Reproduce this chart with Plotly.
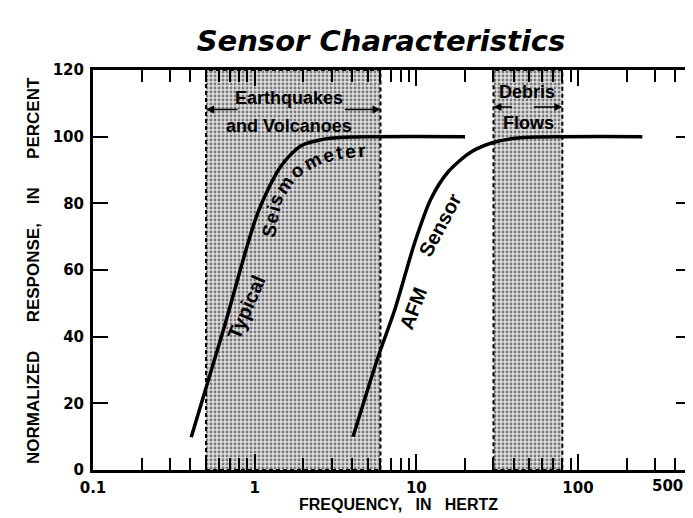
import numpy as np
import plotly.graph_objects as go

# ---------------- data ----------------
seis_freq = [0.405, 0.652, 1.048, 1.46, 1.94, 2.58, 3.5, 20]
seis_resp = [9.8, 43.3, 77.3, 91.3, 97.3, 99.1, 99.8, 100]

afm_freq = [4.06, 5.8, 7.38, 9.8, 12.3, 15.7, 21.8, 30.6, 42.5, 250]
afm_resp = [10, 33.9, 48.3, 68.4, 81.3, 89.4, 95.4, 98.4, 99.6, 100]

band_names = ["Earthquakes and Volcanoes", "Debris Flows"]
band_lo = [0.5, 30]
band_hi = [6, 80]

x_tick_vals = [0.1, 1, 10, 100, 500]
x_tick_text = ["0.1", "1", "10", "100", ""]
x_minor_vals = [0.2, 0.3, 0.4, 0.5, 0.6, 0.7, 0.8, 0.9,
                2, 3, 4, 5, 6, 7, 8, 9,
                20, 30, 40, 50, 60, 70, 80, 90,
                200, 300, 400]
y_tick_vals = [0, 20, 40, 60, 80, 100, 120]

# ---------------- layout constants ----------------
W, H = 693, 518
L, R, T, B = 85, 10, 62, 56
PW, PH = W - L - R, H - T - B


def px(xp):
    return (xp - L) / PW


def py(yp):
    return (H - B - yp) / PH


LIB = "Liberation Sans, Arial, Helvetica, sans-serif"
DJV = "DejaVu Sans, Verdana, sans-serif"
NB = "\u00a0"

fig = go.Figure()

# shaded bands
for name, lo, hi in zip(band_names, band_lo, band_hi):
    fig.add_trace(go.Scatter(
        x=[lo, hi, hi, lo, lo], y=[0, 0, 120, 120, 0],
        mode="lines", fill="toself",
        fillcolor="#d6d6d6",
        fillpattern=dict(shape=".", fgcolor="#777777", bgcolor="#e0e0e0",
                         size=4, solidity=0.4, fillmode="replace"),
        line=dict(color="black", width=2, dash="4px,3px"),
        name=name, hoverinfo="skip"))

# response curves
fig.add_trace(go.Scatter(x=seis_freq, y=seis_resp, mode="lines",
                         line=dict(color="black", width=3.5, shape="spline", smoothing=0.8),
                         name="Typical Seismometer"))
fig.add_trace(go.Scatter(x=afm_freq, y=afm_resp, mode="lines",
                         line=dict(color="black", width=3.5, shape="spline", smoothing=0.8),
                         name="AFM Sensor"))

tickfont = dict(family=DJV, size=15, color="black", weight="bold")

fig.update_layout(
    width=W, height=H,
    margin=dict(l=L, r=R, t=T, b=B, autoexpand=False),
    paper_bgcolor="white", plot_bgcolor="white",
    showlegend=False,
    title=dict(text="Sensor Characteristics", x=373 / W, xanchor="center",
               xref="container", yref="container", y=1 - 33 / H, yanchor="middle",
               font=dict(family=DJV, size=29, color="black", weight="bold", style="italic")),
    xaxis=dict(type="log", range=[-1, np.log10(500)],
               tickmode="array", tickvals=x_tick_vals, ticktext=x_tick_text,
               ticks="inside", ticklen=16, tickwidth=2, tickcolor="black",
               ticklabelstandoff=2,
               minor=dict(tickmode="array", tickvals=x_minor_vals, ticks="inside",
                          ticklen=12, tickwidth=2, tickcolor="black", showgrid=False),
               showline=True, linewidth=3, linecolor="black", mirror="ticks",
               showgrid=False, zeroline=False, tickfont=tickfont, automargin=False),
    yaxis=dict(range=[0, 120], tickmode="array", tickvals=y_tick_vals,
               ticks="inside", ticklen=15, tickwidth=2, tickcolor="black",
               ticklabelstandoff=3,
               showline=True, linewidth=3, linecolor="black", mirror="ticks",
               showgrid=False, zeroline=False, tickfont=tickfont, automargin=False),
)

ann = []


def text(t, xp, yp, size=18, angle=0, family=LIB):
    ann.append(dict(text=t, xref="paper", yref="paper", x=px(xp), y=py(yp),
                    xanchor="center", yanchor="middle", showarrow=False,
                    textangle=angle,
                    font=dict(family=family, size=size, color="black", weight="bold")))


# tick label 500 (sits left of the axis end)
text("500", 659, 478, size=15, family=DJV)

# axis titles
text("NORMALIZED" + NB * 6 + "RESPONSE," + NB * 4 + "IN" + NB * 6 + "PERCENT",
     25, 263, size=17, angle=-90)
text("FREQUENCY," + NB * 3 + "IN" + NB * 3 + "HERTZ", 390, 497, size=16)

# band labels
text("Earthquakes", 281, 89.5, size=18)
text("and Volcanoes", 281, 117.5, size=18)
text("Debris", 519, 84, size=18)
text("Flows", 520, 115, size=18)

# band arrows
for xhead, yp, off in [(band_lo[0], 101.5, 33), (band_hi[0], 101.5, -37),
                       (band_lo[1], 99, 20), (band_hi[1], 99, -30)]:
    ann.append(dict(text="", xref="x", yref="paper", x=np.log10(xhead), y=py(yp),
                    ax=off, ay=0, showarrow=True, arrowhead=2, arrowsize=1,
                    arrowwidth=1.6, arrowcolor="black", standoff=0))

# curve labels
text("Typical", 238, 300, size=20, angle=-67)
text("AFM", 405, 301, size=20, angle=-69)
text("Sensor", 432, 217, size=20, angle=-62)

seis_letters = [("S", 261, 223, -79), ("e", 263, 210, -77), ("i", 265, 201, -74),
                ("s", 268, 192, -68), ("m", 276, 177, -56), ("o", 289, 163, -41),
                ("m", 304, 153, -27), ("e", 320, 147, -16), ("t", 331, 144, -10),
                ("e", 342, 143, -6), ("r", 354, 142, -4)]
for ch, xp, yp, a in seis_letters:
    text(ch, xp, yp, size=19, angle=a)

fig.update_layout(annotations=ann)

fig.write_html("out.html")
